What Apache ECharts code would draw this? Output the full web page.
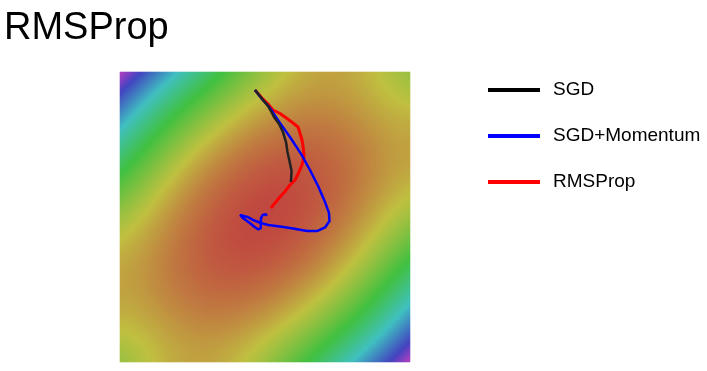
<!DOCTYPE html>
<html><head><meta charset="utf-8">
<script src="https://cdn.jsdelivr.net/npm/echarts@6/dist/echarts.min.js"></script>
<style>html,body{margin:0;padding:0;background:#fff}#c{width:707px;height:371px}</style>
</head><body><div id="c"></div>
<script>
// ---- data ----
const titleText = 'RMSProp';
const legendNames = ['SGD', 'SGD+Momentum', 'RMSProp'];

// trajectories in plot units (-1..1 both axes, y up)
const sgdPath = [
  [-0.069,0.876],[-0.041,0.841],[-0.014,0.807],[0.021,0.766],[0.041,0.731],[0.062,0.690],
  [0.097,0.641],[0.124,0.586],[0.145,0.517],[0.155,0.448],[0.169,0.386],[0.183,0.317],[0.179,0.241]
];
const momentumPath = [
  [-0.069,0.876],[-0.021,0.814],[0.034,0.752],[0.103,0.648],[0.172,0.552],[0.253,0.428],
  [0.310,0.324],[0.366,0.214],[0.414,0.103],[0.441,0.028],[0.445,-0.028],[0.414,-0.072],
  [0.359,-0.097],[0.290,-0.097],[0.193,-0.079],[0.103,-0.066],[0.023,-0.055],[-0.023,-0.043],
  [-0.069,-0.026],[-0.115,-0.002],[-0.172,0.014],[-0.150,-0.009],[-0.103,-0.043],[-0.069,-0.071],
  [-0.046,-0.085],[-0.030,-0.078],[-0.028,-0.043],[-0.028,-0.009],[-0.016,0.014],[0.005,0.019],[0.012,0.007]
];
const rmspropPath = [
  [-0.069,0.876],[-0.021,0.821],[0.021,0.779],[0.055,0.738],[0.103,0.714],[0.152,0.679],
  [0.193,0.648],[0.228,0.621],[0.241,0.579],[0.255,0.531],[0.264,0.476],[0.269,0.416],
  [0.255,0.359],[0.231,0.303],[0.207,0.255],[0.172,0.221],[0.138,0.176],[0.103,0.138],
  [0.069,0.097],[0.041,0.062]
];

// loss surface in rotated coords u=(x+y)/sqrt2 (long axis), v=(y-x)/sqrt2 (short axis):
// f = c0*u^2 + c1*u^4 + c2*v^2 + c3*u^4*v^2, coefficients
const lossCoefficients = [46, -3.5, 139, -120];
const lossRange = [0, 300];
const surfaceCells = 145;

// ---- build chart ----
const cats = [];
for (let i = 0; i < surfaceCells; i++) cats.push(i);
const surface = [];
for (let i = 0; i < surfaceCells; i++) {
  const x = -1 + (i + 0.5) * 2 / surfaceCells;
  for (let j = 0; j < surfaceCells; j++) {
    const y = -1 + (j + 0.5) * 2 / surfaceCells;
    const u2 = (x + y) * (x + y) / 2, v2 = (y - x) * (y - x) / 2;
    const f = lossCoefficients[0] * u2 + lossCoefficients[1] * u2 * u2 +
              lossCoefficients[2] * v2 + lossCoefficients[3] * u2 * u2 * v2;
    surface.push([i, j, Math.max(0, f)]);
  }
}

const chart = echarts.init(document.getElementById('c'), null, {renderer: 'canvas'});
const font = 'Liberation Sans, Arial, sans-serif';
chart.setOption({
  animation: false,
  backgroundColor: '#fff',
  title: {
    text: titleText, left: 4, top: 10, padding: 0,
    textStyle: {fontFamily: font, fontSize: 38, fontWeight: 'normal', color: '#000'}
  },
  legend: {
    orient: 'vertical', left: 488, top: 79, padding: 0,
    itemWidth: 52, itemHeight: 4, icon: 'rect', itemGap: 24,
    selectedMode: false,
    data: legendNames,
    textStyle: {fontFamily: font, fontSize: 19, color: '#000', lineHeight: 22, padding: [0, 0, 0, 8]}
  },
  grid: {left: 120, top: 72, width: 290, height: 290},
  xAxis: [
    {type: 'category', data: cats, show: false, gridIndex: 0},
    {type: 'value', min: -1, max: 1, show: false, gridIndex: 0}
  ],
  yAxis: [
    {type: 'category', data: cats, show: false, gridIndex: 0},
    {type: 'value', min: -1, max: 1, show: false, gridIndex: 0}
  ],
  visualMap: {
    show: false, type: 'continuous', seriesIndex: 0,
    min: lossRange[0], max: lossRange[1],
    inRange: {color: ['#c04840', '#c08240', '#c0c040', '#80c040', '#42c040', '#40c080',
                      '#40c0c0', '#4080c0', '#4444c0', '#a040c0', '#c040c0']}
  },
  series: [
    {type: 'heatmap', name: 'loss', xAxisIndex: 0, yAxisIndex: 0, data: surface,
     progressive: 0, emphasis: {disabled: true}, silent: true},
    {type: 'line', name: 'RMSProp', xAxisIndex: 1, yAxisIndex: 1, data: rmspropPath,
     symbol: 'none', color: '#ff0000', lineStyle: {color: '#ff0000', width: 3}},
    {type: 'line', name: 'SGD+Momentum', xAxisIndex: 1, yAxisIndex: 1, data: momentumPath,
     symbol: 'none', color: '#0000ff', lineStyle: {color: '#0000ff', width: 2.5}},
    {type: 'line', name: 'SGD', xAxisIndex: 1, yAxisIndex: 1, data: sgdPath,
     symbol: 'none', color: '#000000', lineStyle: {color: '#222222', width: 2.5}}
  ]
});
</script></body></html>
